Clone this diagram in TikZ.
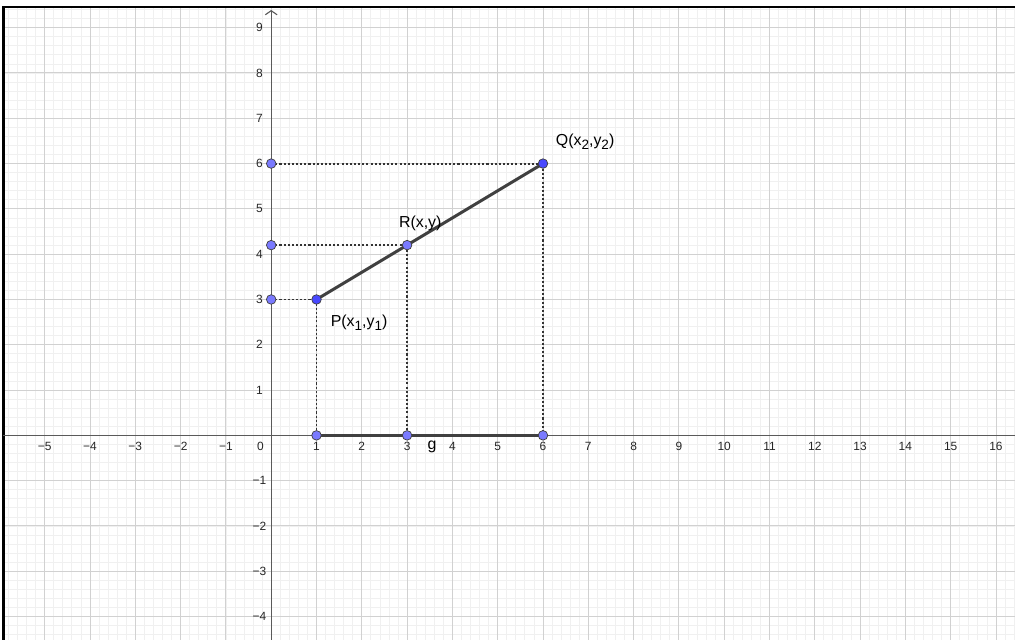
\documentclass[tikz,border=0pt]{standalone}
\usepackage{fontspec}
\setmainfont{Liberation Sans}
\usetikzlibrary{arrows.meta}
\definecolor{ptdark}{RGB}{72,72,255}
\definecolor{ptlight}{RGB}{122,122,255}
\definecolor{axisgray}{RGB}{90,90,90}
\definecolor{seggray}{RGB}{64,64,64}
\newcommand{\lowsub}[1]{\raisebox{-0.45ex}{\fontsize{8.5}{9}\selectfont #1}}

\begin{document}
\begin{tikzpicture}[
    minorgrid/.style={draw=black!6, line width=0.5pt},
    majorgrid/.style={draw=black!18, line width=0.6pt},
    axisline/.style={draw=axisgray, line width=0.7pt},
    ticklabel/.style={font=\fontsize{7.5}{8}\selectfont, text=black!85, inner sep=0pt},
    ptlabel/.style={font=\fontsize{10}{12}\selectfont, inner sep=0pt},
    seg/.style={draw=seggray, line width=1.9pt},
    proj/.style={draw=black!80, line width=1.2pt, dash pattern=on 1.3pt off 1.3pt},
    freept/.style={circle, draw=black!75, line width=0.45pt, fill=ptdark, minimum size=6pt, inner sep=0pt},
    axispt/.style={freept, fill=ptlight}]

\useasboundingbox (-5.987,-4.517) rectangle (16.42,9.611);

% grid
\begin{scope}
\clip (-5.91,-4.517) rectangle (16.42,9.456);
\draw [minorgrid] (-6,-4.6) grid[step=0.2] (16.6,9.6);
\draw [majorgrid] (-6,-4.6) grid[step=1] (16.6,9.6);
\end{scope}

% frame
\draw [line width=1.3pt] (-5.91,-4.517) -- (-5.91,9.456) -- (16.42,9.456);

% axes
\coordinate (xleft) at (-5.91,0);
\coordinate (xright) at (16.42,0);
\coordinate (ybottom) at (0,-4.517);
\coordinate (ytop) at (0,9.39);
\draw [axisline] (xleft) -- (xright);
\draw [axisline, -{Straight Barb[length=0.9mm, width=2.6mm]}] (ybottom) -- (ytop);

\foreach \i in {1,...,16} \node [ticklabel] (xpos\i) at (\i,-0.25) {\i};
\foreach \i in {1,...,5} \node [ticklabel] (xneg\i) at (-\i,-0.25) {−\i};
\foreach \j in {1,...,9} \node [ticklabel, anchor=east] (ypos\j) at (-0.18,\j) {\j};
\foreach \j in {1,...,4} \node [ticklabel, anchor=east] (yneg\j) at (-0.1,-\j) {−\j};
\node [ticklabel] (orig) at (-0.24,-0.25) {0};

% points
\coordinate (P) at (1,3);
\coordinate (Q) at (6,6);
\coordinate (R) at (3,4.2);
\coordinate (Px) at (1,0);
\coordinate (Rx) at (3,0);
\coordinate (Qx) at (6,0);
\coordinate (Py) at (0,3);
\coordinate (Ry) at (0,4.2);
\coordinate (Qy) at (0,6);

\draw [proj] (Py) -- (P) -- (Px);
\draw [proj] (Ry) -- (R) -- (Rx);
\draw [proj] (Qy) -- (Q) -- (Qx);

\draw [seg] (P) -- (Q);
\draw [seg] (Px) -- (Qx);

\foreach \c in {R,Px,Rx,Qx,Py,Ry,Qy} \node [axispt] (dot\c) at (\c) {};
\foreach \c in {P,Q} \node [freept] (dot\c) at (\c) {};

\node [ptlabel] (Qlabel) at (6.93,6.48) {Q(x\lowsub{2},y\lowsub{2})};
\node [ptlabel] (Rlabel) at (3.29,4.67) {R(x,y)};
\node [ptlabel] (Plabel) at (1.94,2.48) {P(x\lowsub{1},y\lowsub{1})};
\node [ptlabel] (glabel) at (3.55,-0.25) {g};

\end{tikzpicture}
\end{document}
